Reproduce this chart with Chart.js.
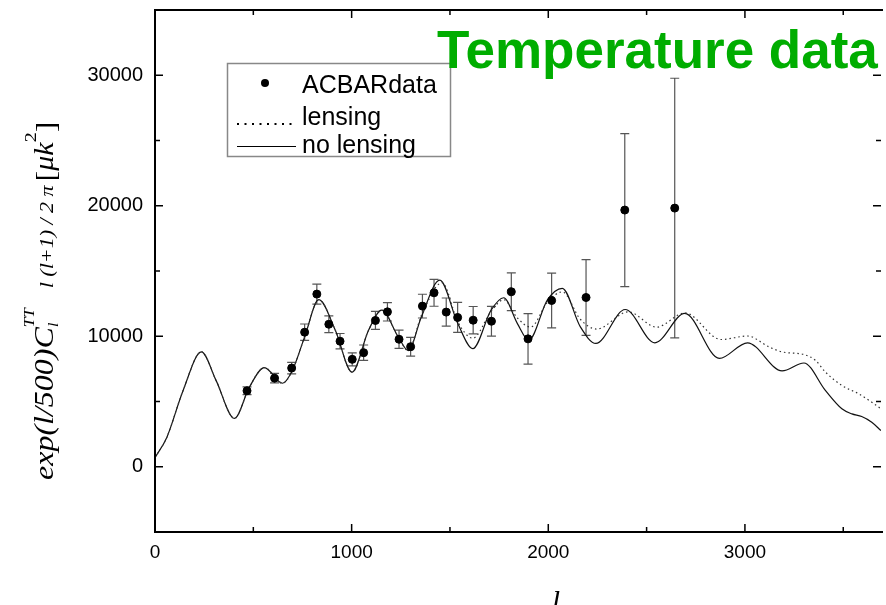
<!DOCTYPE html>
<html>
<head>
<meta charset="utf-8">
<script src="https://cdn.jsdelivr.net/npm/chart.js@4.4.0/dist/chart.umd.min.js"></script>
<style>
  html, body { margin: 0; padding: 0; background: #fff; }
  #wrap { width: 886px; height: 605px; }
</style>
</head>
<body>
<div id="wrap"><canvas id="tt-chart" width="886" height="605"></canvas></div>
<script>
// ACBAR band powers
const acbarL = [468, 608, 695, 761, 823, 884, 941, 1003, 1061, 1121, 1182, 1241, 1300, 1360, 1419, 1481, 1539, 1618, 1711, 1812, 1897, 2017, 2192, 2389, 2643];
const acbarV = [5820, 6790, 7560, 10310, 13230, 10920, 9620, 8230, 8740, 11210, 11870, 9770, 9200, 12310, 13330, 11850, 11440, 11230, 11150, 13410, 9800, 12740, 12970, 19670, 19820];
const acbarErr = [300, 360, 440, 630, 770, 640, 590, 500, 590, 690, 700, 700, 720, 910, 1030, 1080, 1150, 1050, 1140, 1450, 1940, 2100, 2900, 5860, 9950];

// model without lensing (solid)
const noLensL = [0, 60, 143, 236, 311, 404, 480, 556, 648, 699, 761, 833, 917, 1002, 1086, 1153, 1237, 1288, 1355, 1448, 1540, 1616, 1709, 1773, 1843, 1901, 1995, 2071, 2163, 2242, 2391, 2542, 2694, 2870, 3013, 3189, 3300, 3409, 3493, 3544, 3594, 3645, 3692];
const noLensV = [700, 2250, 5850, 8800, 6600, 3700, 6100, 7600, 6400, 7400, 9950, 12800, 10460, 7250, 10460, 12000, 9950, 8900, 11500, 14300, 10970, 9050, 12000, 12950, 10970, 9700, 12770, 13670, 10720, 9450, 12050, 9500, 11750, 8300, 9500, 7350, 7950, 5850, 4440, 4050, 3850, 3410, 2770];

// model with lensing (dotted)
const lensL = [0, 60, 143, 236, 311, 404, 480, 556, 648, 699, 761, 833, 917, 1002, 1086, 1153, 1237, 1288, 1355, 1460, 1540, 1616, 1709, 1773, 1843, 1910, 1995, 2071, 2163, 2245, 2407, 2551, 2694, 2879, 3013, 3123, 3189, 3300, 3359, 3409, 3493, 3578, 3645, 3692];
const lensV = [700, 2250, 5850, 8800, 6600, 3700, 6100, 7600, 6400, 7400, 9950, 12800, 10460, 7250, 10460, 12000, 9950, 8900, 11600, 14100, 11100, 9850, 11900, 12800, 11400, 10700, 12600, 13400, 11300, 10550, 11870, 10700, 11790, 9750, 10020, 9180, 8800, 8600, 8150, 7260, 6230, 5590, 4950, 4440];

const xTicks = [0, 1000, 2000, 3000];
const xMinor = [500, 1500, 2500, 3500];
const yTicks = [0, 10000, 20000, 30000];
const yMinor = [5000, 15000, 25000];

const toXY = (xs, ys) => xs.map((x, i) => ({ x: x, y: ys[i] }));

const serif = '"Liberation Serif", "Times New Roman", serif';
const sans = '"Liberation Sans", Arial, sans-serif';

const decorPlugin = {
  id: 'decor',
  beforeDatasetsDraw(chart) {
    const { ctx, scales: { x, y } } = chart;
    ctx.save();
    ctx.strokeStyle = '#555';
    ctx.lineWidth = 1.2;
    acbarL.forEach((l, i) => {
      const px = x.getPixelForValue(l);
      const top = y.getPixelForValue(acbarV[i] + acbarErr[i]);
      const bot = y.getPixelForValue(acbarV[i] - acbarErr[i]);
      ctx.beginPath();
      ctx.moveTo(px, top); ctx.lineTo(px, bot);
      ctx.moveTo(px - 4.5, top); ctx.lineTo(px + 4.5, top);
      ctx.moveTo(px - 4.5, bot); ctx.lineTo(px + 4.5, bot);
      ctx.stroke();
    });
    ctx.restore();
  },
  afterDraw(chart) {
    const { ctx, chartArea: a, scales: { x, y } } = chart;
    ctx.save();

    // frame
    ctx.strokeStyle = '#000';
    ctx.lineWidth = 2;
    ctx.beginPath();
    ctx.moveTo(a.right + 2, a.top); ctx.lineTo(a.left, a.top);
    ctx.lineTo(a.left, a.bottom); ctx.lineTo(a.right + 2, a.bottom);
    ctx.stroke();

    // inward ticks on all four sides
    ctx.lineWidth = 1.5;
    ctx.beginPath();
    const tickX = (v, len) => {
      const px = x.getPixelForValue(v);
      ctx.moveTo(px, a.bottom); ctx.lineTo(px, a.bottom - len);
      ctx.moveTo(px, a.top); ctx.lineTo(px, a.top + len);
    };
    const tickY = (v, len) => {
      const py = y.getPixelForValue(v);
      ctx.moveTo(a.left, py); ctx.lineTo(a.left + len, py);
      ctx.moveTo(a.right, py); ctx.lineTo(a.right - len, py);
    };
    xTicks.forEach(v => tickX(v, 8));
    xMinor.forEach(v => tickX(v, 5));
    yTicks.forEach(v => tickY(v, 8));
    yMinor.forEach(v => tickY(v, 5));
    ctx.stroke();

    // legend
    ctx.strokeStyle = '#888';
    ctx.lineWidth = 1.5;
    ctx.strokeRect(227.5, 63.5, 223, 93);
    ctx.fillStyle = '#000';
    ctx.beginPath();
    ctx.arc(265, 83, 4, 0, Math.PI * 2);
    ctx.fill();
    ctx.font = '25px ' + sans;
    ctx.textBaseline = 'alphabetic';
    ctx.textAlign = 'left';
    ctx.fillText('ACBARdata', 302, 93);
    ctx.fillText('lensing', 302, 125);
    ctx.fillText('no lensing', 302, 153);
    for (let dx = 237; dx <= 296; dx += 7.5) {
      ctx.fillRect(dx, 123, 2, 2);
    }
    ctx.strokeStyle = '#000';
    ctx.lineWidth = 1;
    ctx.beginPath();
    ctx.moveTo(237, 146.5); ctx.lineTo(296, 146.5);
    ctx.stroke();

    // title
    ctx.fillStyle = '#00ad00';
    ctx.font = 'bold 53px ' + sans;
    ctx.fillText('Temperature data', 437, 68);

    // x axis title
    ctx.fillStyle = '#000';
    ctx.font = 'italic 30px ' + serif;
    ctx.textAlign = 'center';
    ctx.fillText('l', 556, 611);

    // y axis title, rotated
    ctx.textAlign = 'left';
    ctx.translate(53, 480);
    ctx.rotate(-Math.PI / 2);
    ctx.scale(1, 0.88);
    let cx = 0;
    const put = (txt, font, dy) => {
      ctx.font = font;
      ctx.fillText(txt, cx, dy);
      return ctx.measureText(txt).width;
    };
    cx += put('exp(l/500)C', 'italic 32px ' + serif, 0);
    const wSup = put('TT', 'italic 17px ' + serif, -22);
    const wSub = put('l', 'italic 17px ' + serif, 6);
    cx += Math.max(wSup, wSub) + 20;
    cx += put('l (l+1) / 2 \u03c0', 'italic 22px ' + serif, 0) + 4;
    cx += put('[', '32px ' + serif, 2);
    cx += put('\u03bck', 'italic 30px ' + serif, 0);
    cx += put('2', '20px ' + serif, -19);
    put(']', '32px ' + serif, 2);

    ctx.restore();
  }
};

new Chart(document.getElementById('tt-chart'), {
  type: 'scatter',
  data: {
    datasets: [
      {
        label: 'ACBARdata',
        data: toXY(acbarL, acbarV),
        backgroundColor: '#000',
        borderColor: '#000',
        pointRadius: 4,
        showLine: false,
        order: 0
      },
      {
        label: 'lensing',
        data: toXY(lensL, lensV),
        borderColor: '#333',
        borderWidth: 1.2,
        borderDash: [1.5, 3],
        pointRadius: 0,
        showLine: true,
        cubicInterpolationMode: 'monotone',
        order: 1
      },
      {
        label: 'no lensing',
        data: toXY(noLensL, noLensV),
        borderColor: '#111',
        borderWidth: 1.2,
        pointRadius: 0,
        showLine: true,
        cubicInterpolationMode: 'monotone',
        order: 2
      }
    ]
  },
  options: {
    responsive: false,
    devicePixelRatio: 1,
    animation: false,
    layout: { padding: { top: 10, right: 0, left: 0, bottom: 0 } },
    plugins: {
      legend: { display: false },
      tooltip: { enabled: false }
    },
    scales: {
      x: {
        type: 'linear',
        min: 0,
        max: 3692,
        afterBuildTicks: s => { s.ticks = xTicks.map(v => ({ value: v })); },
        afterFit: s => { s.height = 73; s.paddingLeft = 0; s.paddingRight = 0; },
        grid: { display: false, drawTicks: false },
        border: { display: false },
        ticks: { color: '#000', font: { size: 19, family: sans }, padding: 9, maxRotation: 0, callback: v => String(v) }
      },
      y: {
        type: 'linear',
        min: -5000,
        max: 35000,
        afterBuildTicks: s => { s.ticks = yTicks.map(v => ({ value: v })); },
        afterFit: s => { s.width = 155; s.paddingTop = 0; s.paddingBottom = 0; },
        grid: { display: false, drawTicks: false },
        border: { display: false },
        ticks: { color: '#000', font: { size: 20, family: sans }, padding: 12, callback: v => String(v) }
      }
    }
  },
  plugins: [decorPlugin]
});
</script>
</body>
</html>
